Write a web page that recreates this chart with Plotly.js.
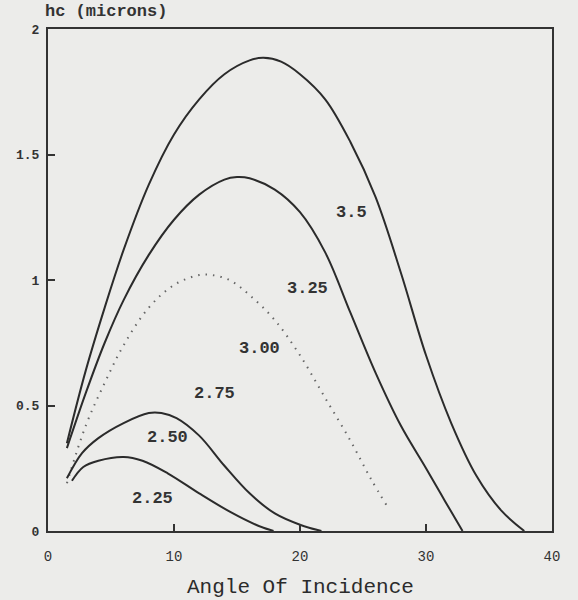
<!DOCTYPE html>
<html>
<head>
<meta charset="utf-8">
<script src="https://cdn.plot.ly/plotly-3.0.1.min.js"></script>
<style>html,body{margin:0;padding:0;background:#ececea;}</style>
</head>
<body>
<div id="chart" style="width:578px;height:600px;"></div>
<script>
// Curve data: angle of incidence (deg) vs hc (microns)
const c35_x = [1.5, 3, 4.5, 6, 8, 10, 12, 14, 16, 17.1, 18.5, 20, 22, 24, 26, 28, 30, 32, 34, 36, 37.8];
const c35_y = [0.35, 0.64, 0.89, 1.12, 1.38, 1.58, 1.72, 1.82, 1.875, 1.885, 1.87, 1.82, 1.72, 1.55, 1.33, 1.03, 0.70, 0.43, 0.22, 0.08, 0.0];

const c325_x = [1.5, 3, 4.5, 6, 8, 10, 12, 14, 15, 16, 18, 20, 22, 24, 26, 28, 30, 31.5, 32.9];
const c325_y = [0.33, 0.55, 0.75, 0.92, 1.10, 1.24, 1.34, 1.40, 1.41, 1.405, 1.36, 1.27, 1.11, 0.87, 0.63, 0.42, 0.25, 0.12, 0.0];

const c300_x = [1.5, 3, 4.5, 6, 8, 10, 12, 13, 14.4, 16, 18, 20, 22, 24, 25.6, 26.9];
const c300_y = [0.19, 0.42, 0.59, 0.74, 0.89, 0.98, 1.02, 1.02, 1.00, 0.94, 0.84, 0.70, 0.53, 0.36, 0.21, 0.10];

const c250_x = [1.5, 2.7, 4, 6, 8, 9, 10.2, 12, 14, 16, 18, 20, 21.7];
const c250_y = [0.21, 0.31, 0.37, 0.43, 0.47, 0.47, 0.45, 0.38, 0.26, 0.15, 0.07, 0.025, 0.0];

const c225_x = [1.9, 2.8, 4, 6, 7.5, 9.5, 12, 14.5, 16.5, 17.9];
const c225_y = [0.20, 0.255, 0.28, 0.295, 0.28, 0.23, 0.15, 0.075, 0.025, 0.0];

// Curve labels
const label_text = ["3.5", "3.25", "3.00", "2.75", "2.50", "2.25"];
const label_x = [24.1, 20.6, 16.8, 13.2, 9.5, 8.3];
const label_y = [1.267, 0.968, 0.729, 0.546, 0.371, 0.131];

const x_ticks = [0, 10, 20, 30, 40];
const y_ticks = [0, 0.5, 1, 1.5, 2];
const y_ticktext = ["0", "0.5", "1", "1.5", "2"];

const solid = {color: '#2b2b2b', width: 2, shape: 'spline', smoothing: 1};
const traces = [
  {x: c35_x, y: c35_y, mode: 'lines', line: solid},
  {x: c325_x, y: c325_y, mode: 'lines', line: solid},
  {x: c300_x, y: c300_y, mode: 'lines', line: {color: '#666', width: 2, dash: '1.5px,6px', shape: 'spline', smoothing: 1}},
  {x: c250_x, y: c250_y, mode: 'lines', line: solid},
  {x: c225_x, y: c225_y, mode: 'lines', line: solid}
];

const mono = "Liberation Mono, DejaVu Sans Mono, monospace";
const annotations = label_text.map((t, i) => ({
  text: t, x: label_x[i], y: label_y[i], xref: 'x', yref: 'y',
  showarrow: false, font: {family: mono, size: 17, color: '#333', weight: 'bold'}
}));
annotations.push({
  text: 'Angle Of Incidence', xref: 'paper', yref: 'paper', x: 0.5, y: -0.112,
  xanchor: 'center', yanchor: 'middle', showarrow: false,
  font: {family: mono, size: 21, color: '#2b2b2b'}
});
annotations.push({
  text: 'hc (microns)', xref: 'paper', yref: 'paper', x: 0.115, y: 1.034,
  xanchor: 'center', yanchor: 'middle', showarrow: false,
  font: {family: mono, size: 17, color: '#333', weight: 'bold'}
});

const layout = {
  width: 578, height: 600,
  margin: {l: 48, r: 26, t: 29, b: 69},
  paper_bgcolor: '#ececea', plot_bgcolor: '#ececea',
  showlegend: false,
  xaxis: {
    range: [0, 40], tickvals: x_ticks, ticktext: x_ticks.map(String),
    ticks: 'inside', ticklen: 7, tickwidth: 2, tickcolor: '#333',
    showline: true, mirror: true, linecolor: '#333', linewidth: 2,
    showgrid: false, zeroline: false, ticklabelstandoff: 11,
    tickfont: {family: mono, size: 14, color: '#333'}
  },
  yaxis: {
    range: [0, 2], tickvals: y_ticks, ticktext: y_ticktext,
    ticks: 'inside', ticklen: 7, tickwidth: 2, tickcolor: '#333',
    showline: true, mirror: true, linecolor: '#333', linewidth: 2,
    showgrid: false, zeroline: false, ticklabelstandoff: 4,
    tickfont: {family: mono, size: 13, color: '#333', weight: 'bold'}
  },
  annotations: annotations
};

Plotly.newPlot('chart', traces, layout, {displayModeBar: false, staticPlot: true});
</script>
</body>
</html>
